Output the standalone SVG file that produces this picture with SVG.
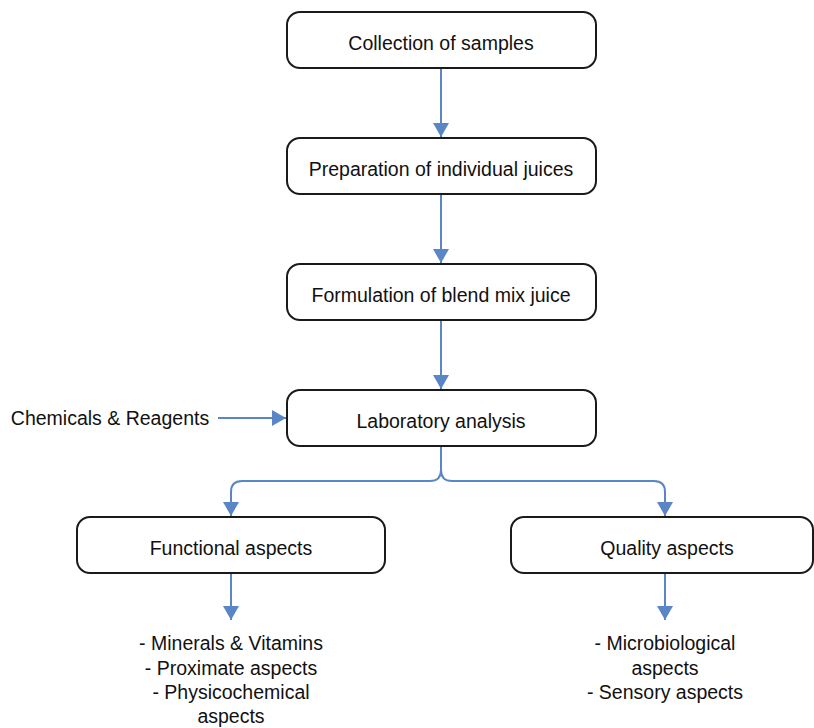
<svg xmlns="http://www.w3.org/2000/svg" width="814" height="728" viewBox="0 0 814 728">
<style>
.box{fill:#fff;stroke:#1a1a1a;stroke-width:2}
.t{font-family:"Liberation Sans",Arial,sans-serif;font-size:19.5px;fill:#111;text-anchor:middle}
.c{fill:none;stroke:#5b86c6;stroke-width:2}
</style>
<defs>
<marker id="ah" viewBox="0 0 14 16" refX="14" refY="8" markerWidth="14" markerHeight="16" markerUnits="userSpaceOnUse" orient="auto">
<path d="M0,0 L14,8 L0,16 z" fill="#5b86c6"/>
</marker>
</defs>
<rect width="814" height="728" fill="#fff"/>
<g id="connectors">
<path class="c" d="M441,68 V137" marker-end="url(#ah)"/>
<path class="c" d="M441,194 V263" marker-end="url(#ah)"/>
<path class="c" d="M441,320 V389" marker-end="url(#ah)"/>
<path class="c" d="M218,418 H286" marker-end="url(#ah)"/>
<path class="c" d="M441,446 V470 Q441,481 430,481 H242 Q231,481 231,492 V516" marker-end="url(#ah)"/>
<path class="c" d="M441,446 V470 Q441,481 452,481 H654 Q665,481 665,492 V516" marker-end="url(#ah)"/>
<path class="c" d="M231,573 V620" marker-end="url(#ah)"/>
<path class="c" d="M665,573 V620" marker-end="url(#ah)"/>
</g>
<g id="n1"><rect class="box" x="287" y="12" width="309" height="56" rx="13"/><text class="t" x="441" y="50">Collection of samples</text></g>
<g id="n2"><rect class="box" x="287" y="138" width="309" height="56" rx="13"/><text class="t" x="441" y="176">Preparation of individual juices</text></g>
<g id="n3"><rect class="box" x="287" y="264" width="309" height="56" rx="13"/><text class="t" x="441" y="302">Formulation of blend mix juice</text></g>
<g id="n4"><rect class="box" x="287" y="390" width="309" height="56" rx="13"/><text class="t" x="441" y="428">Laboratory analysis</text></g>
<g id="n5"><text class="t" x="110" y="425">Chemicals &amp; Reagents</text></g>
<g id="n6"><rect class="box" x="77" y="517" width="308" height="56" rx="13"/><text class="t" x="231" y="555">Functional aspects</text></g>
<g id="n7"><rect class="box" x="511" y="517" width="302" height="56" rx="13"/><text class="t" x="667" y="555">Quality aspects</text></g>
<g id="n8"><text class="t" x="231" y="650">- Minerals &amp; Vitamins</text><text class="t" x="231" y="675">- Proximate aspects</text><text class="t" x="231" y="699">- Physicochemical</text><text class="t" x="231" y="723">aspects</text></g>
<g id="n9"><text class="t" x="665" y="650">- Microbiological</text><text class="t" x="665" y="675">aspects</text><text class="t" x="665" y="699">- Sensory aspects</text></g>
</svg>
